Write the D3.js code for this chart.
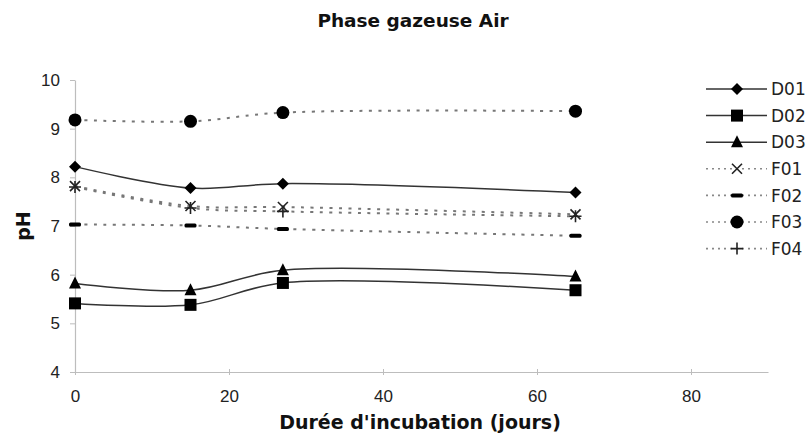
<!DOCTYPE html>
<html>
<head>
<meta charset="utf-8">
<script src="https://cdn.jsdelivr.net/npm/d3@7"></script>
<style>
  html, body { margin: 0; padding: 0; background: #fff; }
  svg { display: block; font-family: "DejaVu Sans", Verdana, sans-serif; }
</style>
</head>
<body>
<svg id="chart" width="812" height="437"></svg>
<script>
// Incubation days at which pH was measured
const days = [0, 15, 27, 65];

// pH per sample
const seriesNames = ["D01", "D02", "D03", "F01", "F02", "F03", "F04"];
const D01 = [8.22, 7.78, 7.87, 7.69];
const D02 = [5.41, 5.38, 5.83, 5.68];
const D03 = [5.82, 5.68, 6.09, 5.96];
const F01 = [7.82, 7.41, 7.39, 7.24];
const F02 = [7.03, 7.01, 6.94, 6.80];
const F03 = [9.18, 9.15, 9.33, 9.36];
const F04 = [7.80, 7.37, 7.30, 7.20];

const xTicks = [0, 20, 40, 60, 80];
const yTicks = [4, 5, 6, 7, 8, 9, 10];

const title = "Phase gazeuse Air";
const xTitle = "Durée d'incubation (jours)";
const yTitle = "pH";

const seriesValues = [D01, D02, D03, F01, F02, F03, F04];
const markerOf = { D01: "diamond", D02: "square", D03: "triangle", F01: "cross", F02: "dash", F03: "circle", F04: "plus" };
const solid = { D01: true, D02: true, D03: true };

const svg = d3.select("#chart");
const x = d3.scaleLinear().domain([0, 90]).range([75, 768]);
const y = d3.scaleLinear().domain([4, 10]).range([372, 80]);

// Axes
const axisColor = "#bdbdbd";
const gx = svg.append("g").attr("transform", `translate(0,${y(4)})`)
  .call(d3.axisBottom(x).tickValues(xTicks).tickFormat(d3.format("d")).tickSize(0).tickPadding(18));
gx.select(".domain").attr("stroke", axisColor).attr("stroke-width", 1.2);
gx.selectAll(".tick").append("line").attr("y1", -3).attr("y2", 3).attr("stroke", axisColor);
gx.selectAll("text").style("font-size", "17px").attr("fill", "#222");

const gy = svg.append("g").attr("transform", `translate(${x(0)},0)`)
  .call(d3.axisLeft(y).tickValues(yTicks).tickFormat(d3.format("d")).tickSize(0).tickPadding(15));
gy.select(".domain").attr("stroke", axisColor).attr("stroke-width", 1.2);
gy.selectAll(".tick").append("line").attr("x1", -5).attr("x2", 0).attr("stroke", axisColor);
gy.selectAll("text").style("font-size", "17px").attr("fill", "#222");

// Titles
svg.append("text").attr("x", 413).attr("y", 27).attr("text-anchor", "middle")
  .style("font-size", "18.5px").attr("font-weight", "bold").attr("fill", "#111").text(title);
svg.append("text").attr("x", 420).attr("y", 429).attr("text-anchor", "middle")
  .style("font-size", "19px").attr("font-weight", "bold").attr("fill", "#111").text(xTitle);
svg.append("text").attr("transform", "translate(30,226) rotate(-90)").attr("text-anchor", "middle")
  .style("font-size", "19px").attr("font-weight", "bold").attr("fill", "#111").text(yTitle);

// Marker drawing
function drawMarker(g, type, cx, cy) {
  const c = "#000";
  switch (type) {
    case "diamond":
      g.append("path").attr("d", `M${cx},${cy-6}L${cx+6},${cy}L${cx},${cy+6}L${cx-6},${cy}Z`).attr("fill", c); break;
    case "square":
      g.append("rect").attr("x", cx-6).attr("y", cy-6).attr("width", 12).attr("height", 12).attr("fill", c); break;
    case "triangle":
      g.append("path").attr("d", `M${cx},${cy-7}L${cx+6},${cy+5}L${cx-6},${cy+5}Z`).attr("fill", c); break;
    case "circle":
      g.append("circle").attr("cx", cx).attr("cy", cy).attr("r", 6.5).attr("fill", c); break;
    case "dash":
      g.append("rect").attr("x", cx-6).attr("y", cy-2).attr("width", 12).attr("height", 4).attr("rx", 1.5).attr("fill", c); break;
    case "cross":
      g.append("path").attr("d", `M${cx-5},${cy-5}L${cx+5},${cy+5}M${cx+5},${cy-5}L${cx-5},${cy+5}`)
        .attr("stroke", "#222").attr("stroke-width", 1.6); break;
    case "plus":
      g.append("path").attr("d", `M${cx-6},${cy}L${cx+6},${cy}M${cx},${cy-6}L${cx},${cy+6}`)
        .attr("stroke", "#222").attr("stroke-width", 1.6); break;
  }
}

const line = d3.line().x((d, i) => x(days[i])).y(d => y(d)).curve(d3.curveCatmullRom.alpha(0.5));

const plot = svg.append("g");
seriesNames.forEach((name, k) => {
  const vals = seriesValues[k];
  plot.append("path").datum(vals).attr("d", line).attr("fill", "none")
    .attr("stroke", solid[name] ? "#333" : "#777")
    .attr("stroke-width", solid[name] ? 1.5 : 2)
    .attr("stroke-dasharray", solid[name] ? null : "3,6.5");
});
seriesNames.forEach((name, k) => {
  const g = plot.append("g");
  seriesValues[k].forEach((v, i) => drawMarker(g, markerOf[name], x(days[i]), y(v)));
});

// Legend
const legend = svg.append("g");
seriesNames.forEach((name, k) => {
  const ly = 89 + k * 26.6;
  legend.append("line").attr("x1", 706).attr("x2", 767).attr("y1", ly).attr("y2", ly)
    .attr("stroke", solid[name] ? "#333" : "#888")
    .attr("stroke-width", solid[name] ? 1.5 : 1.6)
    .attr("stroke-dasharray", solid[name] ? null : "2,4");
  drawMarker(legend, markerOf[name], 737, ly);
  legend.append("text").attr("x", 771).attr("y", ly).attr("dy", "0.36em")
    .style("font-size", "17px").attr("fill", "#222").text(name);
});
</script>
</body>
</html>
